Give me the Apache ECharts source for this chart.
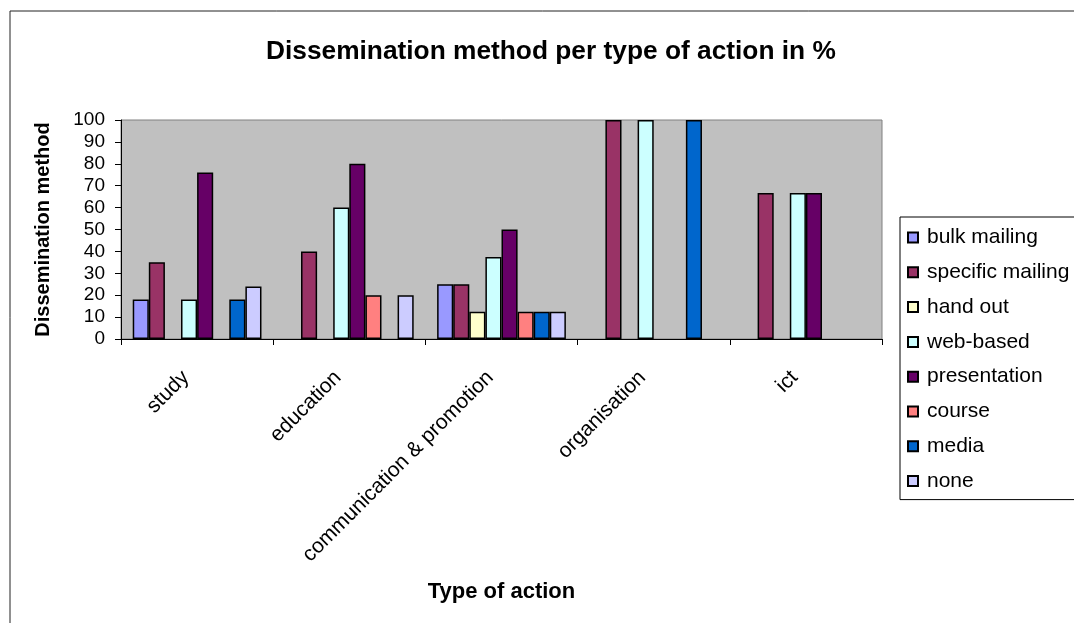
<!DOCTYPE html>
<html>
<head>
<meta charset="utf-8">
<script src="https://cdn.jsdelivr.net/npm/echarts@6/dist/echarts.min.js"></script>
<style>
  html, body { margin: 0; padding: 0; background: #ffffff; }
  #chart { width: 1074px; height: 623px; }
</style>
</head>
<body>
<div id="chart"></div>
<script>
// Categories (type of action) and share of each dissemination method, in %
const categories = ['study', 'education', 'communication & promotion', 'organisation', 'ict'];
const bulkMailing     = [18, 0, 25, 0, 0];
const specificMailing = [35, 40, 25, 100, 66.7];
const handOut         = [0, 0, 12.5, 0, 0];
const webBased        = [18, 60, 37.5, 100, 66.7];
const presentation    = [76, 80, 50, 0, 66.7];
const course          = [0, 20, 12.5, 0, 0];
const media           = [18, 0, 12.5, 100, 0];
const none            = [24, 20, 12.5, 0, 0];

const seriesNames = ['bulk mailing', 'specific mailing', 'hand out', 'web-based',
                     'presentation', 'course', 'media', 'none'];
const seriesValues = [bulkMailing, specificMailing, handOut, webBased,
                      presentation, course, media, none];
const seriesColors = ['#9999FF', '#993366', '#FFFFCC', '#CCFFFF',
                      '#660066', '#FF8080', '#0066CC', '#CCCCFF'];

const FONT = '"Liberation Sans", Arial, Helvetica, sans-serif';

const chart = echarts.init(document.getElementById('chart'), null, { renderer: 'canvas' });

const option = {
  backgroundColor: '#ffffff',
  animation: false,
  textStyle: { fontFamily: FONT, color: '#000' },
  title: {
    text: 'Dissemination method per type of action in %',
    left: 261,
    top: 34,
    textStyle: { fontFamily: FONT, fontSize: 26.3, fontWeight: 'bold', color: '#000' }
  },
  graphic: [{
    type: 'rect',
    silent: true,
    shape: { x: 10, y: 11, width: 1200, height: 800 },
    style: { fill: 'none', stroke: '#222', lineWidth: 1 },
    z: -1
  }],
  legend: {
    orient: 'vertical',
    left: 900,
    top: 217,
    padding: [10, 40, 8, 7],
    itemWidth: 10,
    itemHeight: 10,
    itemGap: 13.8,
    borderColor: '#000',
    borderWidth: 1,
    backgroundColor: '#ffffff',
    icon: 'rect',
    textStyle: { fontFamily: FONT, fontSize: 21, lineHeight: 20, color: '#000', padding: [0, 0, 0, 4] },
    data: seriesNames
  },
  grid: {
    left: 121,
    top: 120,
    right: 192,
    bottom: 284,
    show: true,
    backgroundColor: '#C0C0C0',
    borderColor: '#808080',
    borderWidth: 1
  },
  xAxis: {
    type: 'category',
    data: categories,
    name: 'Type of action',
    nameLocation: 'middle',
    nameGap: 242,
    nameTextStyle: { fontFamily: FONT, fontSize: 22, fontWeight: 'bold', color: '#000' },
    axisLine: { lineStyle: { color: '#000', width: 1 } },
    axisTick: { show: true, inside: false, length: 6, lineStyle: { color: '#000' } },
    axisLabel: {
      rotate: 45, margin: 24, interval: 0,
      padding: [0, 16, 0, 0],
      fontFamily: FONT, fontSize: 21, color: '#000'
    },
    splitLine: { show: false }
  },
  yAxis: {
    type: 'value',
    min: 0,
    max: 100,
    interval: 10,
    name: 'Dissemination method',
    nameLocation: 'middle',
    nameGap: 68,
    nameTextStyle: { fontFamily: FONT, fontSize: 20, fontWeight: 'bold', color: '#000' },
    axisLine: { show: true, lineStyle: { color: '#000', width: 1 } },
    axisTick: { show: true, inside: false, length: 6, lineStyle: { color: '#000' } },
    axisLabel: { margin: 16, fontFamily: FONT, fontSize: 19, color: '#000' },
    splitLine: { show: false }
  },
  series: seriesNames.map((name, i) => ({
    name: name,
    type: 'bar',
    barGap: '0%',
    barCategoryGap: '15.4%',
    itemStyle: { color: seriesColors[i], borderColor: '#000', borderWidth: 1.5 },
    data: seriesValues[i].map(v => (v === 0 ? '-' : v))
  }))
};

chart.setOption(option);
</script>
</body>
</html>
